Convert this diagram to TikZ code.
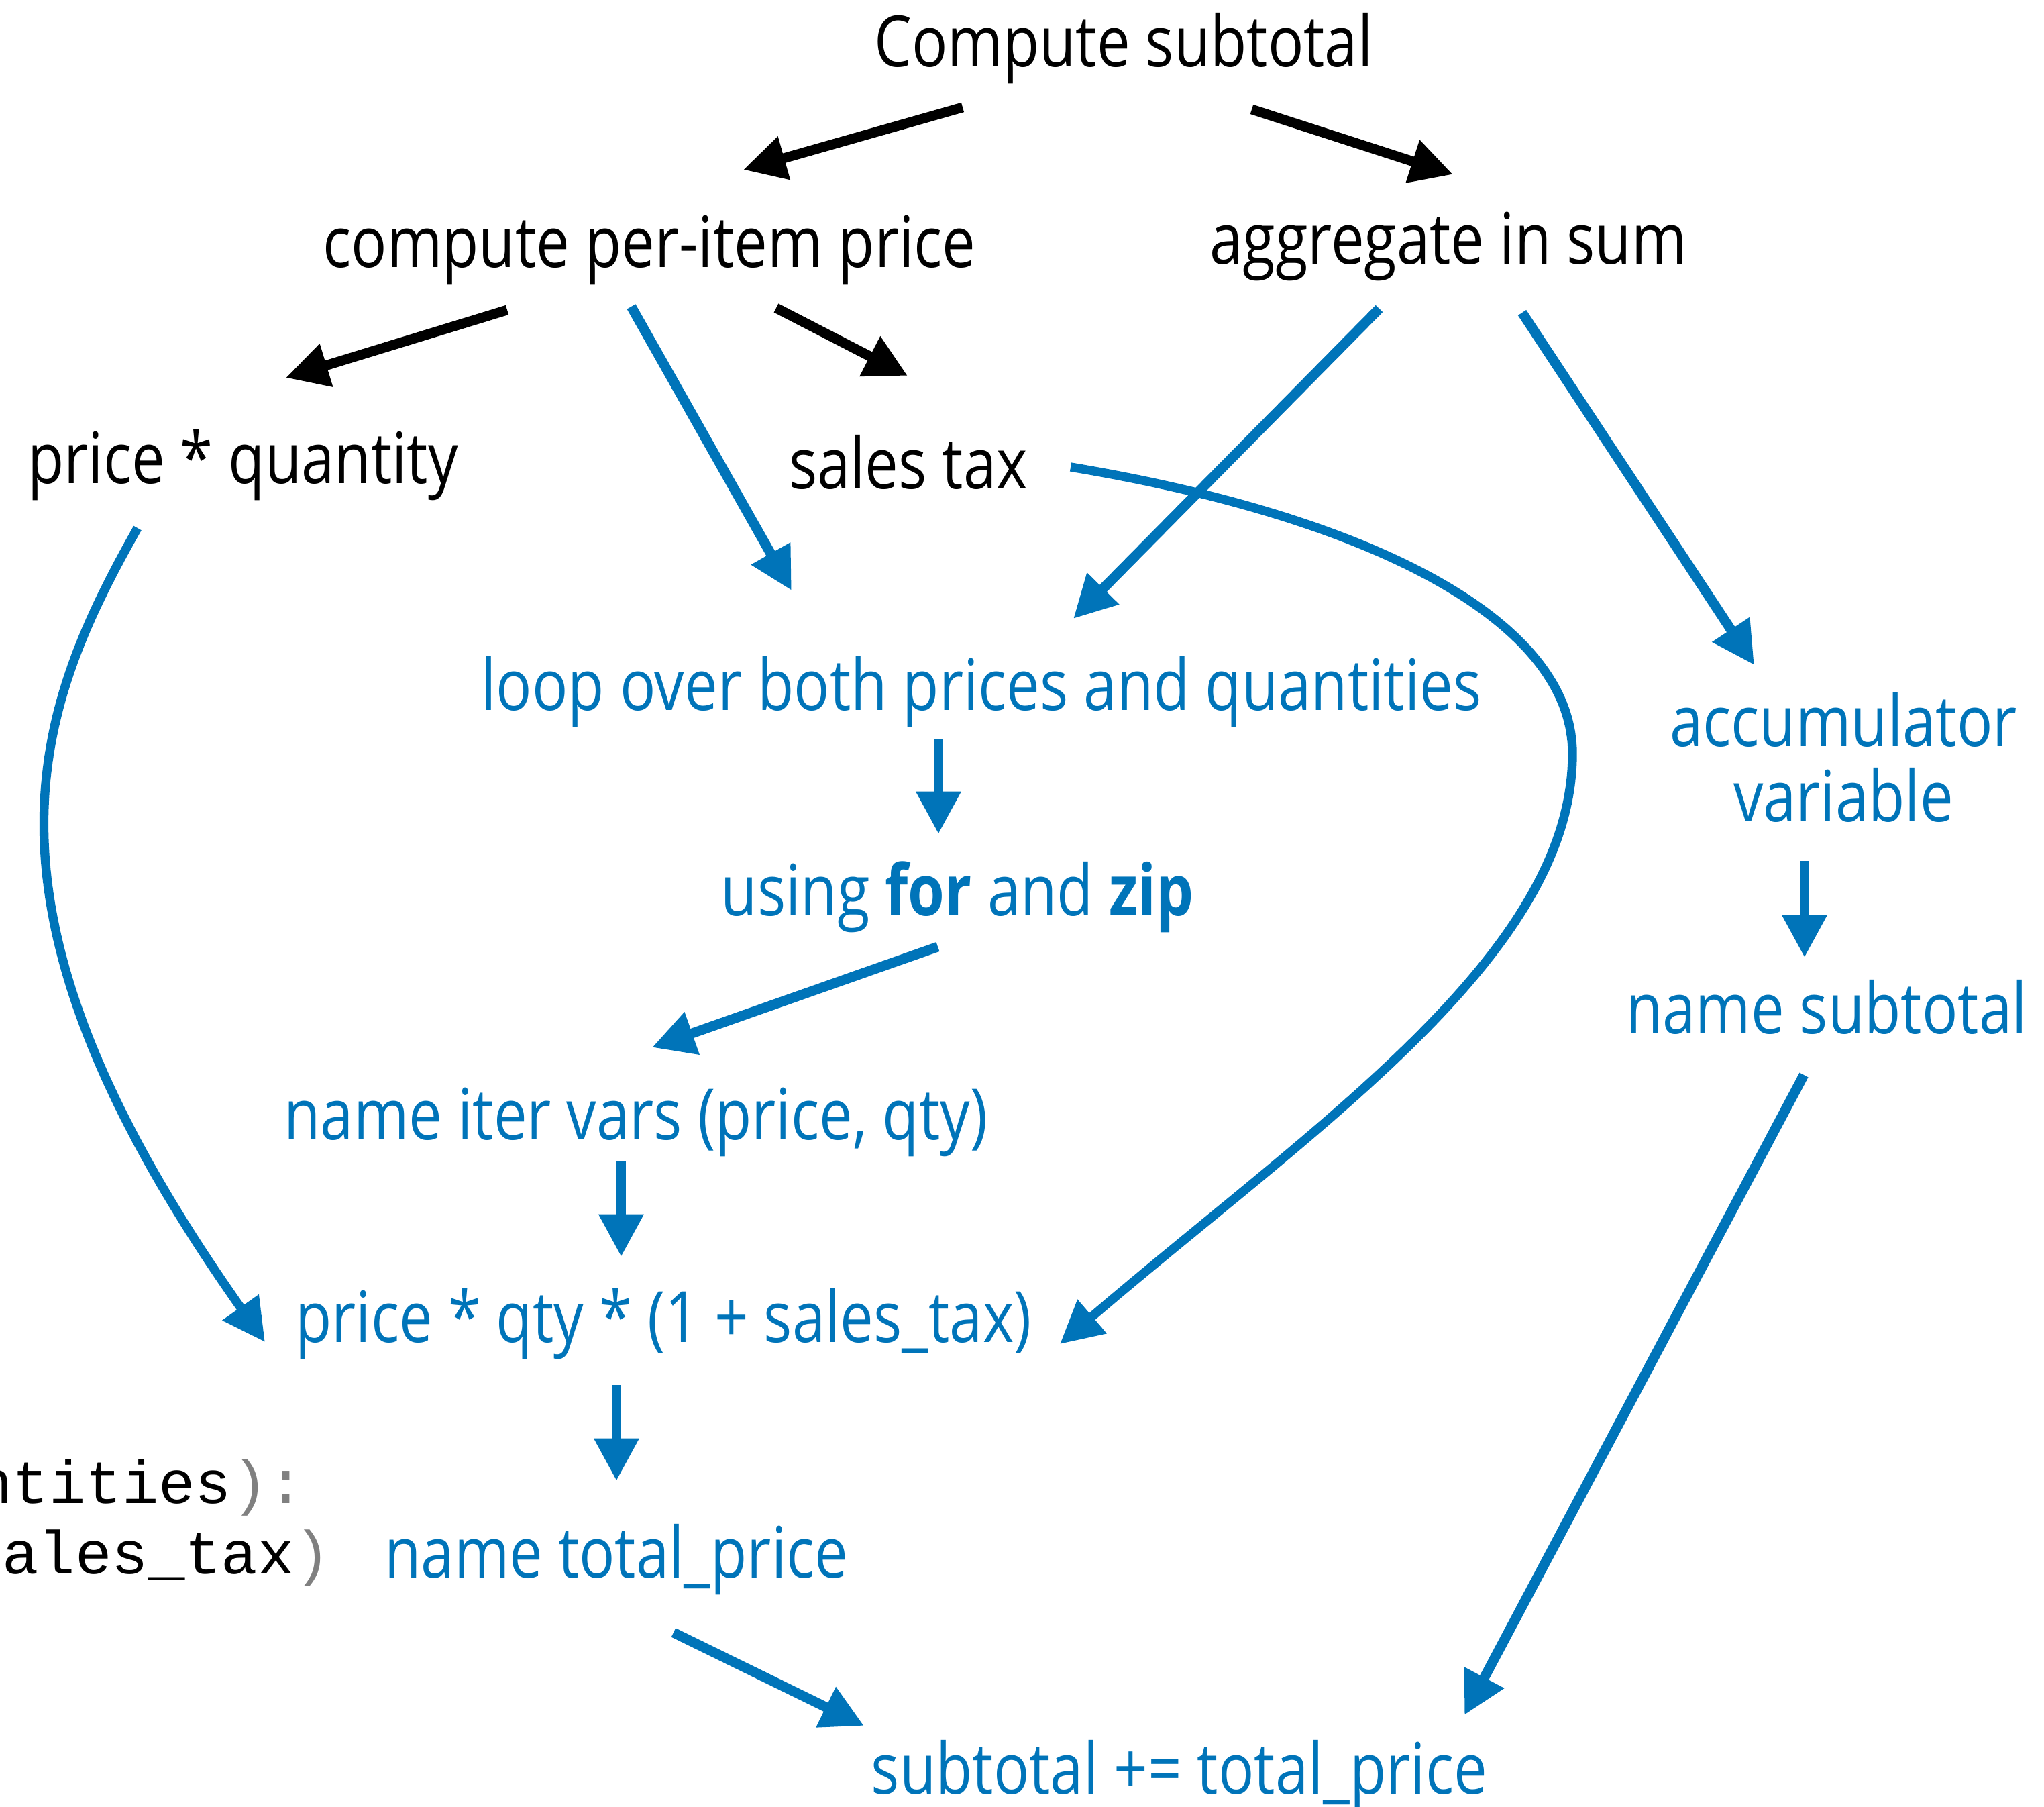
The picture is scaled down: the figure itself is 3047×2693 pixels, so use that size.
\documentclass[tikz,border=0pt]{standalone}
\usepackage{fontspec}
\setmainfont[FakeStretch=0.84]{Open Sans}
\newfontfamily\codefont{Liberation Mono}
\usetikzlibrary{arrows.meta,calc}
\definecolor{myblue}{HTML}{0074B9}
\definecolor{codegray}{HTML}{808080}
\tikzset{
  lbl/.style={inner sep=0pt, anchor=base, font=\fontsize{30}{31.6}\selectfont},
  bl/.style={lbl, text=myblue},
  codetxt/.style={inner sep=0pt, anchor=base east, font=\codefont\fontsize{25.8}{30}\selectfont},
  blkarrow/.style={line width=4.2pt, -{Triangle[length=18pt,width=18pt]}},
  bluarrow/.style={blkarrow, draw=myblue},
  curvearrow/.style={line width=3.8pt, draw=myblue, -{Triangle[length=18pt,width=18pt]}}
}
\begin{document}
\begin{tikzpicture}[x=0.01cm,y=-0.01cm]
\useasboundingbox (0,0) rectangle (3047,2693);
% nodes
\node[lbl] (cs)  at (1675,99)  {Compute subtotal};
\node[lbl] (cpi) at (968,398)  {compute per-item price};
\node[lbl] (agg) at (2159,393) {aggregate in sum};
\node[lbl] (pq)  at (362,720)  {price * quantity};
\node[lbl] (st)  at (1354,728) {sales tax};
\node[bl]  (loop) at (1463,1058) {loop over both prices and quantities};
\node[bl, align=center] (acc) at (2748,1224) {accumulator\\variable};
\node[bl]  (using) at (1427,1364) {using \textbf{for} and \textbf{zip}};
\node[bl]  (ns)  at (2723,1540) {name subtotal};
\node[bl]  (niv) at (948,1698) {name iter vars (price, qty)};
\node[bl]  (pqt) at (989,2000) {price * qty * (1 + sales\_tax)};
\node[bl]  (ntp) at (919,2351) {name total\_price};
\node[bl]  (sub) at (1758,2673) {subtotal += total\_price};
\node[codetxt] (code1) at (455,2240) {ntities\textcolor{codegray}{):}};
\node[codetxt] (code2) at (494,2345) {ales\_tax\textcolor{codegray}{)}};
\coordinate (rc) at (2344,1123);
% black arrows
\draw[blkarrow] ($(cs.base)+(-240,61)$) -- ($(cpi.base)+(140,-145)$);
\draw[blkarrow] ($(cs.base)+(191,64)$) -- ($(agg.base)+(7,-133)$);
\draw[blkarrow] ($(cpi.base)+(-212,64)$) -- ($(pq.base)+(64,-157)$);
\draw[blkarrow] ($(cpi.base)+(189,61)$) -- ($(st.base)+(-1,-168)$);
% blue arrows
\draw[bluarrow] ($(cpi.base)+(-27,59)$) -- ($(loop.base)+(-283,-178)$);
\draw[bluarrow] ($(agg.base)+(-103,67)$) -- ($(loop.base)+(137,-136)$);
\draw[bluarrow] ($(agg.base)+(110,73)$) -- ($(acc.base)+(-133,-233)$);
\draw[bluarrow] ($(loop.base)+(-64,43)$) -- ($(using.base)+(-28,-121)$);
\draw[bluarrow] ($(using.base)+(-29,47)$) -- ($(niv.base)+(24,-137)$);
\draw[bluarrow] ($(niv.base)+(-22,32)$) -- ($(pqt.base)+(-63,-127)$);
\draw[bluarrow] ($(pqt.base)+(-70,64)$) -- ($(ntp.base)+(0,-144)$);
\draw[bluarrow] ($(ntp.base)+(85,82)$) -- ($(sub.base)+(-470,-101)$);
\draw[bluarrow] ($(acc.base)+(-58,59)$) -- ($(ns.base)+(-33,-113)$);
\draw[bluarrow] ($(ns.base)+(-34,62)$) -- ($(sub.base)+(425,-117)$);
% curved arrows
\draw[curvearrow] ($(pq.base)+(-157,67)$) .. controls +(-157,278) and +(-456,-645) .. ($(pqt.base)+(-594,0)$);
\draw[curvearrow] ($(st.base)+(242,-32)$) .. controls +(444,74) and +(0,-200) .. (rc)
   .. controls +(0,300) and +(380,-325) .. ($(pqt.base)+(591,3)$);
\end{tikzpicture}
\end{document}
